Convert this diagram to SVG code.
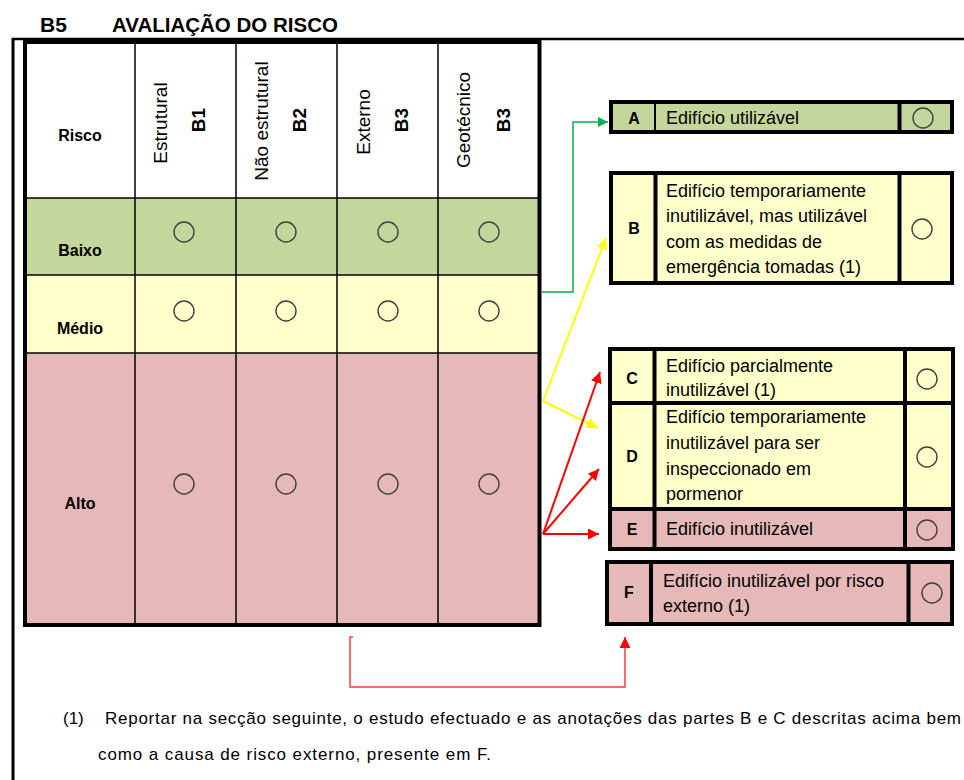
<svg xmlns="http://www.w3.org/2000/svg" width="964" height="780" viewBox="0 0 964 780">
<style>
text{font-family:"Liberation Sans",Arial,sans-serif;fill:#000}
.t{font-size:18px}
.b{font-weight:bold;font-size:16px}
.h{font-size:19px}
.c{fill:none;stroke:#404040;stroke-width:1.4}
.grid{stroke:#000;stroke-width:1.5}
.box{fill:none;stroke:#000;stroke-width:4}
.div{stroke:#000;stroke-width:4}
.g{fill:#c3d69b}.y{fill:#ffffcc}.r{fill:#e6b8b7}
.conn{fill:none}
</style>
<defs>
<marker id="ag" viewBox="0 0 10 10" refX="10" refY="5" markerWidth="10" markerHeight="10" markerUnits="userSpaceOnUse" orient="auto"><path d="M0,0L10,5L0,10z" fill="#00b050"/></marker>
<marker id="ay" viewBox="0 0 10 10" refX="10" refY="5" markerWidth="11" markerHeight="11" markerUnits="userSpaceOnUse" orient="auto"><path d="M0,0L10,5L0,10z" fill="#ffff00"/></marker>
<marker id="ar" viewBox="0 0 10 10" refX="10" refY="5" markerWidth="11" markerHeight="11" markerUnits="userSpaceOnUse" orient="auto"><path d="M0,0L10,5L0,10z" fill="#ff0000"/></marker>
</defs>
<rect width="964" height="780" fill="#fff"/>
<g id="title">
<text x="40" y="32" font-weight="bold" font-size="21">B5</text>
<text x="112" y="32" font-weight="bold" font-size="20.5">AVALIAÇÃO DO RISCO</text>
</g>
<g id="frame">
<line x1="12" y1="39" x2="964" y2="39" stroke="#000" stroke-width="2.5"/>
<line x1="13" y1="38" x2="13" y2="780" stroke="#000" stroke-width="3"/>
</g>
<g id="table">
<rect x="25" y="42" width="514.5" height="156" fill="#fff"/>
<rect x="25" y="198" width="514.5" height="77" class="g"/>
<rect x="25" y="275" width="514.5" height="78" class="y"/>
<rect x="25" y="353" width="514.5" height="272" class="r"/>
<line class="grid" x1="25" y1="198" x2="539" y2="198"/>
<line class="grid" x1="25" y1="275" x2="539" y2="275"/>
<line class="grid" x1="25" y1="353" x2="539" y2="353"/>
<line class="grid" x1="135" y1="42" x2="135" y2="625"/>
<line class="grid" x1="236" y1="42" x2="236" y2="625"/>
<line class="grid" x1="337" y1="42" x2="337" y2="625"/>
<line class="grid" x1="438" y1="42" x2="438" y2="625"/>
<rect x="25" y="42" width="514.5" height="583" class="box"/>
<text x="80" y="141" class="b" text-anchor="middle">Risco</text>
<text x="80" y="256" class="b" text-anchor="middle">Baixo</text>
<text x="80" y="334" class="b" text-anchor="middle">Médio</text>
<text x="80" y="509" class="b" text-anchor="middle">Alto</text>
<text class="h" text-anchor="middle" transform="translate(167,123) rotate(-90)">Estrutural</text>
<text class="h" text-anchor="middle" font-weight="bold" transform="translate(205,120) rotate(-90)">B1</text>
<text class="h" text-anchor="middle" transform="translate(268,121) rotate(-90)">Não estrutural</text>
<text class="h" text-anchor="middle" font-weight="bold" transform="translate(306,120) rotate(-90)">B2</text>
<text class="h" text-anchor="middle" transform="translate(370,122) rotate(-90)">Externo</text>
<text class="h" text-anchor="middle" font-weight="bold" transform="translate(408,120) rotate(-90)">B3</text>
<text class="h" text-anchor="middle" transform="translate(470,120) rotate(-90)">Geotécnico</text>
<text class="h" text-anchor="middle" font-weight="bold" transform="translate(510,120) rotate(-90)">B3</text>
<circle class="c" cx="184" cy="232" r="10"/><circle class="c" cx="286" cy="232" r="10"/><circle class="c" cx="388" cy="232" r="10"/><circle class="c" cx="489" cy="232" r="10"/>
<circle class="c" cx="184" cy="311" r="10"/><circle class="c" cx="286" cy="311" r="10"/><circle class="c" cx="388" cy="311" r="10"/><circle class="c" cx="489" cy="311" r="10"/>
<circle class="c" cx="184" cy="484" r="10"/><circle class="c" cx="286" cy="484" r="10"/><circle class="c" cx="388" cy="484" r="10"/><circle class="c" cx="489" cy="484" r="10"/>
</g>
<g id="nodeA">
<rect x="611" y="102" width="341" height="30" class="g"/>
<line x1="655" y1="102" x2="655" y2="132" stroke="#000" stroke-width="2"/>
<line class="div" x1="899.5" y1="102" x2="899.5" y2="132"/>
<rect x="611" y="102" width="341" height="30" class="box"/>
<text x="634" y="124" class="b" text-anchor="middle">A</text>
<text x="666" y="124" class="t">Edifício utilizável</text>
<circle class="c" cx="923" cy="118" r="10"/>
</g>
<g id="nodeB">
<rect x="611" y="173" width="341" height="110" class="y"/>
<line class="div" x1="655.5" y1="173" x2="655.5" y2="283"/>
<line class="div" x1="899.5" y1="173" x2="899.5" y2="283"/>
<rect x="611" y="173" width="341" height="110" class="box"/>
<text x="634" y="234" class="b" text-anchor="middle">B</text>
<text class="t"><tspan x="666" y="197">Edifício temporariamente</tspan><tspan x="666" y="222">inutilizável, mas utilizável</tspan><tspan x="666" y="248">com as medidas de</tspan><tspan x="666" y="273">emergência tomadas (1)</tspan></text>
<circle class="c" cx="922" cy="229" r="10"/>
</g>
<g id="nodeCDE">
<rect x="610" y="349" width="343" height="54" class="y"/>
<rect x="610" y="403" width="343" height="106" class="y"/>
<rect x="610" y="509" width="343" height="40" class="r"/>
<line class="div" x1="610" y1="403" x2="953" y2="403"/>
<line class="div" x1="610" y1="509" x2="953" y2="509"/>
<line class="div" x1="654.5" y1="349" x2="654.5" y2="549"/>
<line class="div" x1="905" y1="349" x2="905" y2="549"/>
<rect x="610" y="349" width="343" height="200" class="box"/>
</g>
<g id="nodeC">
<text x="632" y="384" class="b" text-anchor="middle">C</text>
<text class="t"><tspan x="666" y="372">Edifício parcialmente</tspan><tspan x="666" y="396">inutilizável (1)</tspan></text>
<circle class="c" cx="927" cy="379" r="10"/>
</g>
<g id="nodeD">
<text x="632" y="462" class="b" text-anchor="middle">D</text>
<text class="t"><tspan x="666" y="423">Edifício temporariamente</tspan><tspan x="666" y="449">inutilizável para ser</tspan><tspan x="666" y="475">inspeccionado em</tspan><tspan x="666" y="500">pormenor</tspan></text>
<circle class="c" cx="927" cy="457" r="10"/>
</g>
<g id="nodeE">
<text x="632" y="535" class="b" text-anchor="middle">E</text>
<text x="666" y="535" class="t">Edifício inutilizável</text>
<circle class="c" cx="927" cy="530" r="10"/>
</g>
<g id="nodeF">
<rect x="607" y="562" width="345" height="62" class="r"/>
<line class="div" x1="651" y1="562" x2="651" y2="624"/>
<line class="div" x1="908.5" y1="562" x2="908.5" y2="624"/>
<rect x="607" y="562" width="345" height="62" class="box"/>
<text x="629" y="598" class="b" text-anchor="middle">F</text>
<text class="t"><tspan x="663" y="587">Edifício inutilizável por risco</tspan><tspan x="663" y="612">externo (1)</tspan></text>
<circle class="c" cx="932" cy="593" r="10"/>
</g>
<g id="connectors" class="conn">
<path d="M541,292H573V122H608" stroke="#00b050" stroke-width="1.5" fill="none" marker-end="url(#ag)"/>
<path d="M543,401L606,238" stroke="#ffff00" stroke-width="2" fill="none" marker-end="url(#ay)"/>
<path d="M543,401L598,428" stroke="#ffff00" stroke-width="2" fill="none" marker-end="url(#ay)"/>
<path d="M543,534L600,372" stroke="#ff0000" stroke-width="2" fill="none" marker-end="url(#ar)"/>
<path d="M543,534L599,469" stroke="#ff0000" stroke-width="2" fill="none" marker-end="url(#ar)"/>
<path d="M543,534L599,534" stroke="#ff0000" stroke-width="2" fill="none" marker-end="url(#ar)"/>
<path d="M353,637H350V687H625V637" stroke="#ff3b3b" stroke-width="1.5" fill="none" marker-end="url(#ar)"/>
</g>
<g id="footnote">
<text x="63" y="724" font-size="17">(1)</text>
<text x="105" y="724" font-size="17" textLength="856" lengthAdjust="spacing">Reportar na secção seguinte, o estudo efectuado e as anotações das partes B e C descritas acima bem</text>
<text x="98" y="760" font-size="17" textLength="393" lengthAdjust="spacing">como a causa de risco externo, presente em F.</text>
</g>
</svg>
